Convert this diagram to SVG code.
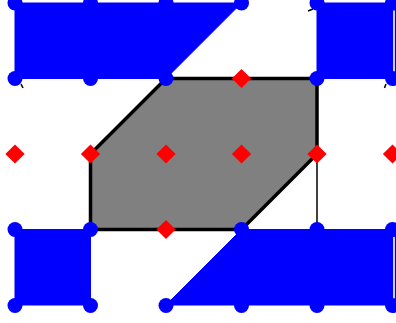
<svg xmlns="http://www.w3.org/2000/svg" width="396" height="323" viewBox="0 0 396 323">
<defs>
<style>
.blue{fill:#0000ff;stroke:#0000ff;stroke-width:1}
.pt{fill:#0000ff}
.dm{fill:#ff0000}
.hex{fill:#808080;stroke:#000;stroke-width:3.5;stroke-linejoin:miter}
.thin{stroke:#000;stroke-width:1.5;fill:none}
.gap{stroke:#fff;stroke-width:1.6;fill:none}
</style>
<circle id="c" r="7.5" class="pt"/>
<rect id="d" x="-6.8" y="-6.8" width="13.6" height="13.6" transform="rotate(45)" class="dm"/>
</defs>
<rect width="396" height="323" fill="#fff"/>
<g id="shapes">
<polygon id="blue-top-left" class="blue" points="15,3 241.5,3 166,78.5 15,78.5"/>
<rect id="blue-top-right" class="blue" x="317" y="3" width="79" height="75.5"/>
<rect id="blue-bottom-left" class="blue" x="15" y="229.5" width="75.5" height="75.5"/>
<polygon id="blue-bottom-right" class="blue" points="241.5,229.5 396,229.5 396,305 166,305"/>
<line class="gap" x1="394" y1="8" x2="394" y2="73"/>
<line class="gap" x1="394" y1="235" x2="394" y2="300"/>
<polygon id="gray-hexagon" class="hex" points="166,78.5 317,78.5 317,154 241.5,229.5 90.5,229.5 90.5,154"/>
</g>
<g id="connectors">
<line class="thin" x1="317" y1="154" x2="317" y2="229.5"/>
<line class="thin" x1="21" y1="84" x2="23" y2="88"/>
<line class="thin" x1="308" y1="11" x2="313" y2="9"/>
<line class="thin" x1="386" y1="84" x2="384.5" y2="88"/>
</g>
<g id="points">
<use href="#c" x="15" y="3"/><use href="#c" x="90.5" y="3"/><use href="#c" x="166" y="3"/><use href="#c" x="241.5" y="3"/><use href="#c" x="317" y="3"/><use href="#c" x="392.5" y="3"/>
<use href="#c" x="15" y="78.5"/><use href="#c" x="90.5" y="78.5"/><use href="#c" x="166" y="78.5"/><use href="#c" x="317" y="78.5"/><use href="#c" x="392.5" y="78.5"/>
<use href="#c" x="15" y="229.5"/><use href="#c" x="90.5" y="229.5"/><use href="#c" x="241.5" y="229.5"/><use href="#c" x="317" y="229.5"/><use href="#c" x="392.5" y="229.5"/>
<use href="#c" x="15" y="305.5"/><use href="#c" x="90.5" y="305.5"/><use href="#c" x="166" y="305.5"/><use href="#c" x="241.5" y="305.5"/><use href="#c" x="317" y="305.5"/><use href="#c" x="392.5" y="305.5"/>
</g>
<g id="diamonds">
<use href="#d" x="241.5" y="78.5"/>
<use href="#d" x="15" y="154"/><use href="#d" x="90.5" y="154"/><use href="#d" x="166" y="154"/><use href="#d" x="241.5" y="154"/><use href="#d" x="317" y="154"/><use href="#d" x="392.5" y="154"/>
<use href="#d" x="166" y="229.5"/>
</g>
</svg>
